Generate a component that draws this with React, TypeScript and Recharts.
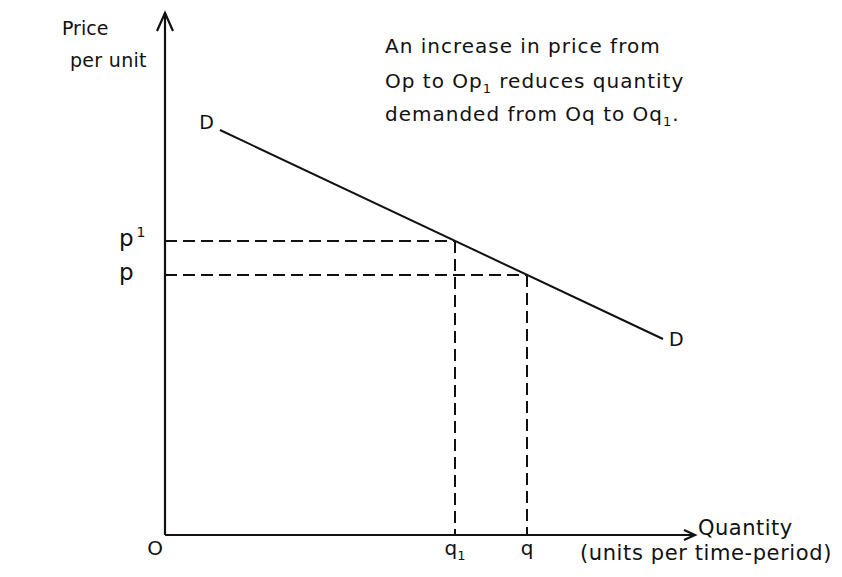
import { ComposedChart, Line, XAxis, YAxis, ReferenceLine } from 'recharts'

// demand curve D-D (two end points)
const demandQty = [11, 99.6]
const demandPrice = [81, 39.2]

// price levels p1 and p, quantities q1 and q
const priceLevels = [58.8, 52.0]
const priceLabels = ['p', 'p']
const priceSup = ['1', '']
const qtyLevels = [0, 58, 72.4]
const qtyLabels = ['O', 'q', 'q']
const qtySub = ['', '1', '']

const xMax = 110
const yMax = 105
const xArrowEnd = 106
const yArrowEnd = 104.4

const demandData = demandQty.map((q, i) => ({ q, price: demandPrice[i] }))

const ink = '#111'
const font = '"DejaVu Sans", sans-serif'

const arrowShape = (head: number, spread: number) => (props: any) => {
  const { x1, y1, x2, y2 } = props
  const dx = x2 - x1
  const dy = y2 - y1
  const len = Math.hypot(dx, dy) || 1
  const ux = dx / len
  const uy = dy / len
  const bx = x2 - ux * head
  const by = y2 - uy * head
  return (
    <g>
      <line x1={x1} y1={y1} x2={x2} y2={y2} stroke={ink} strokeWidth={2.2} />
      <polyline
        points={`${bx - uy * spread},${by + ux * spread} ${x2},${y2} ${bx + uy * spread},${by - ux * spread}`}
        fill="none"
        stroke={ink}
        strokeWidth={2.2}
      />
    </g>
  )
}

const QtyTick = (props: any) => {
  const { x, index } = props
  return (
    <text x={index === 0 ? x - 10 : x} y={555} textAnchor="middle" fontSize={20} fontFamily={font} fill={ink}>
      {qtyLabels[index]}
      {qtySub[index] && (
        <tspan dy={5} fontSize={13}>
          {qtySub[index]}
        </tspan>
      )}
    </text>
  )
}

const PriceTick = (props: any) => {
  const { y, index } = props
  return (
    <text x={119} y={y + 5} textAnchor="start" fontSize={23} fontFamily={font} fill={ink}>
      {priceLabels[index]}
      {priceSup[index] && (
        <tspan dx={3} dy={-9} fontSize={14}>
          {priceSup[index]}
        </tspan>
      )}
    </text>
  )
}

const demandLabel = (props: any) => {
  const { x, y, index } = props
  return (
    <text
      x={index === 0 ? x - 6 : x + 6}
      y={index === 0 ? y - 1 : y + 7}
      textAnchor={index === 0 ? 'end' : 'start'}
      fontSize={19}
      fontFamily={font}
      fill={ink}
    >
      D
    </text>
  )
}

export default function App() {
  return (
    <div style={{ position: 'absolute', left: 0, top: 0, width: 842, height: 577, background: '#fff' }}>
      <ComposedChart
        width={842}
        height={577}
        data={demandData}
        margin={{ top: 10, right: 127, bottom: 0, left: 0 }}
      >
        <XAxis
          type="number"
          dataKey="q"
          domain={[0, xMax]}
          ticks={qtyLevels}
          interval={0}
          height={42}
          axisLine={false}
          tickLine={false}
          tick={QtyTick}
          allowDataOverflow
        />
        <YAxis
          type="number"
          domain={[0, yMax]}
          ticks={priceLevels}
          interval={0}
          width={165}
          axisLine={false}
          tickLine={false}
          tick={PriceTick}
          allowDataOverflow
        />
        {priceLevels.map((p, i) => (
          <ReferenceLine
            key={`h${i}`}
            segment={[{ x: 0, y: p }, { x: qtyLevels[i + 1], y: p }]}
            stroke={ink}
            strokeWidth={2}
            strokeDasharray="12 6"
          />
        ))}
        {priceLevels.map((p, i) => (
          <ReferenceLine
            key={`v${i}`}
            segment={[{ x: qtyLevels[i + 1], y: p }, { x: qtyLevels[i + 1], y: 0 }]}
            stroke={ink}
            strokeWidth={2}
            strokeDasharray="12 6"
          />
        ))}
        <Line
          type="linear"
          dataKey="price"
          stroke={ink}
          strokeWidth={2}
          dot={false}
          activeDot={false}
          label={demandLabel}
          isAnimationActive={false}
        />
        <ReferenceLine
          segment={[{ x: 0, y: 0 }, { x: xArrowEnd, y: 0 }]}
          shape={arrowShape(11, 5)}
        />
        <ReferenceLine
          segment={[{ x: 0, y: 0 }, { x: 0, y: yArrowEnd }]}
          shape={arrowShape(18, 8)}
        />
      </ComposedChart>
      <svg
        width={842}
        height={577}
        style={{ position: 'absolute', left: 0, top: 0, pointerEvents: 'none' }}
        fontFamily={font}
        fill={ink}
      >
        <text x={62} y={35} fontSize={19}>Price</text>
        <text x={70} y={67} fontSize={19} letterSpacing={0.3}>per unit</text>
        <g fontSize={20} letterSpacing={1}>
          <text x={385} y={53}>An increase in price from</text>
          <text x={385} y={88}>
            Op to Op<tspan dy={5} fontSize={13}>1</tspan>
            <tspan dy={-5}> reduces quantity</tspan>
          </text>
          <text x={385} y={121}>
            demanded from Oq to Oq<tspan dy={5} fontSize={13}>1</tspan>
            <tspan dy={-5}>.</tspan>
          </text>
        </g>
        <text x={698} y={535} fontSize={21} letterSpacing={0.5}>Quantity</text>
        <text x={580} y={560} fontSize={21} letterSpacing={0.6}>(units per time-period)</text>
      </svg>
    </div>
  )
}
